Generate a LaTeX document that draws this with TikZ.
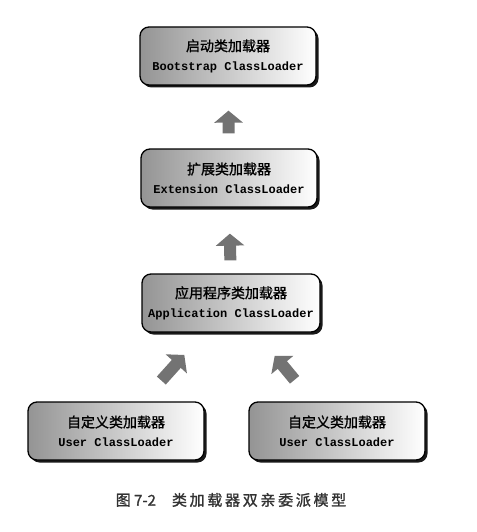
\documentclass[tikz,border=0pt]{standalone}
\usepackage{fontspec}
\setmonofont{Liberation Mono}
\newfontfamily\cjk[FakeBold=1.2]{Noto Sans CJK SC}
\newfontfamily\cjkcap[FakeBold=1.5,LetterSpace=18]{Noto Sans CJK SC}
\usetikzlibrary{arrows.meta,shadows}
\tikzset{
  loader/.style={draw=black, line width=1.3pt, rounded corners=9pt,
    left color=black!42, right color=white, minimum width=176pt, minimum height=58pt,
    align=center, inner sep=2pt,
    drop shadow={shadow xshift=2.5pt, shadow yshift=-2.5pt, fill=black, opacity=0.9}},
  delegate/.style={draw=black!55, line width=12pt, -{Triangle[width=28pt,length=12pt]}},
}
\newcommand{\cn}[1]{{\cjk\fontsize{14}{16}\selectfont #1}}
\newcommand{\en}[1]{{\ttfamily\bfseries\fontsize{12}{14}\selectfont #1}}
\begin{document}
\begin{tikzpicture}[x=1pt,y=-1pt]
	\useasboundingbox (0,0) rectangle (476,532);
	%启动类加载器
	\node[loader] (boot) at (228,56) {\cn{启动类加载器}\\[7pt]\en{Bootstrap ClassLoader}};
	%扩展类加载器
	\node[loader] (ext) at (229,178) {\cn{扩展类加载器}\\[7pt]\en{Extension ClassLoader}};
	%应用程序类加载器
	\node[loader, minimum width=178pt] (app) at (231,303) {\cn{应用程序类加载器}\\[7pt]\en{Application ClassLoader}};
	%自定义类加载器
	\node[loader] (userA) at (116,431) {\cn{自定义类加载器}\\[7pt]\en{User ClassLoader}};
	\node[loader] (userB) at (337,431) {\cn{自定义类加载器}\\[7pt]\en{User ClassLoader}};
	%委派
	\draw[delegate, shorten <=15pt, shorten >=25pt] (ext) -- (boot);
	\draw[delegate, shorten <=13pt, shorten >=26pt] (app) -- (ext);
	\draw[delegate, shorten <=28pt, shorten >=30pt] (userA) -- (app);
	\draw[delegate, shorten <=28pt, shorten >=30pt] (userB) -- (app);
	%图题
	\node[text=black!80] (title) at (231,500) {\fontsize{15}{18}\selectfont{\cjk 图 7-2}\hspace{16pt}{\cjkcap 类加载器双亲委派模型}};
\end{tikzpicture}
\end{document}
